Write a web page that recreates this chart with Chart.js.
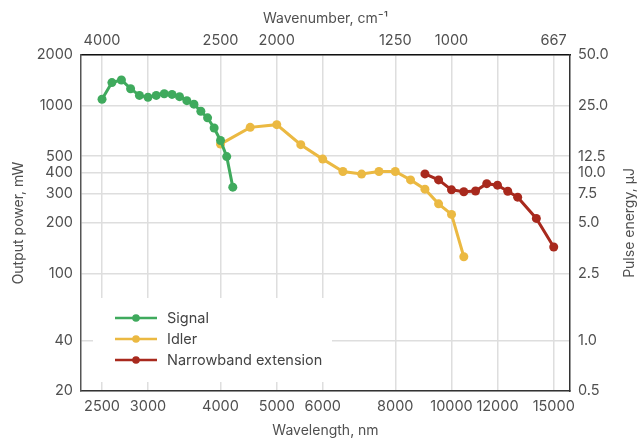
<!DOCTYPE html>
<html>
<head>
<meta charset="utf-8">
<script src="https://cdn.jsdelivr.net/npm/chart.js@4.4.1/dist/chart.umd.min.js"></script>
<style>
    html, body { margin: 0; padding: 0; background: #fff; }
</style>
</head>
<body>
<canvas id="powerChart" width="638" height="441"></canvas>
<script>
// Data
const signalWavelength = [2500, 2600, 2700, 2800, 2900, 3000, 3100, 3200, 3300, 3400, 3500, 3600, 3700, 3800, 3900, 4000, 4100, 4200];
const signalPower = [1090, 1370, 1420, 1260, 1150, 1120, 1150, 1175, 1165, 1130, 1070, 1020, 925, 845, 735, 620, 497, 327];

const idlerWavelength = [4000, 4500, 5000, 5500, 6000, 6500, 7000, 7500, 8000, 8500, 9000, 9500, 10000, 10500];
const idlerPower = [590, 742, 770, 585, 480, 405, 391, 405, 405, 361, 318, 260, 225, 126];

const narrowWavelength = [9000, 9500, 10000, 10500, 11000, 11500, 12000, 12500, 13000, 14000, 15000];
const narrowPower = [392, 361, 315, 307, 310, 343, 336, 309, 285, 213, 144];

const seriesLabels = ['Signal', 'Idler', 'Narrowband extension'];

const wavelengthTicks = [2500, 3000, 4000, 5000, 6000, 8000, 10000, 12000, 15000];
const wavenumberTicks = [4000, 2500, 2000, 1250, 1000, 667];
const powerTicks = [20, 40, 100, 200, 300, 400, 500, 1000, 2000];
const energyTicks = [0.5, 1.0, 2.5, 5.0, 7.5, 10.0, 12.5, 25.0, 50.0];

const textColor = '#505050';
const gridColor = '#dedede';
const fontFamily = 'Inter, "Open Sans", sans-serif';
const tickFont = { family: fontFamily, size: 14.5 };
const titleFont = { family: fontFamily, size: 14 };

function toPoints(xs, ys) {
    return xs.map((x, i) => ({ x: x, y: ys[i] }));
}

function series(label, xs, ys, color) {
    return {
        label: label,
        data: toPoints(xs, ys),
        borderColor: color,
        backgroundColor: color,
        borderWidth: 3,
        pointRadius: 4.5,
        pointBorderWidth: 0,
        tension: 0
    };
}

// Legend drawn inside the plot area, on a white box that hides the grid
const insideLegend = {
    id: 'insideLegend',
    beforeDatasetsDraw(chart) {
        const { ctx, chartArea } = chart;
        const left = chartArea.left + 12;
        const top = chartArea.bottom - 93;
        ctx.save();
        ctx.fillStyle = '#fff';
        ctx.fillRect(left, top, 239, 84);
        ctx.font = '14.5px ' + fontFamily;
        ctx.textBaseline = 'middle';
        chart.data.datasets.forEach((ds, i) => {
            const y = top + 20 + i * 21;
            ctx.strokeStyle = ds.borderColor;
            ctx.lineWidth = 2.5;
            ctx.beginPath();
            ctx.moveTo(left + 22, y);
            ctx.lineTo(left + 64, y);
            ctx.stroke();
            ctx.fillStyle = ds.borderColor;
            ctx.beginPath();
            ctx.arc(left + 43, y, 3.8, 0, Math.PI * 2);
            ctx.fill();
            ctx.fillStyle = '#444';
            ctx.fillText(ds.label, left + 74, y + 1);
        });
        ctx.restore();
    }
};

// Right axis title reads bottom-to-top like the left one
const rightTitle = {
    id: 'rightTitle',
    afterDraw(chart) {
        const { ctx, chartArea } = chart;
        ctx.save();
        ctx.translate(chart.width - 8, (chartArea.top + chartArea.bottom) / 2);
        ctx.rotate(-Math.PI / 2);
        ctx.font = '14px ' + fontFamily;
        ctx.fillStyle = textColor;
        ctx.textAlign = 'center';
        ctx.textBaseline = 'middle';
        ctx.fillText('Pulse energy, μJ', 0, 0);
        ctx.restore();
    }
};

const ctx = document.getElementById('powerChart').getContext('2d');
const powerChart = new Chart(ctx, {
    type: 'line',
    data: {
        datasets: [
            series(seriesLabels[0], signalWavelength, signalPower, '#3faa5d'),
            series(seriesLabels[1], idlerWavelength, idlerPower, '#ebb942'),
            series(seriesLabels[2], narrowWavelength, narrowPower, '#a8291d')
        ]
    },
    options: {
        responsive: false,
        animation: false,
        layout: { padding: 0 },
        plugins: {
            legend: { display: false },
            tooltip: { enabled: false }
        },
        scales: {
            x: {
                type: 'logarithmic',
                position: 'bottom',
                min: 2300,
                max: 16000,
                afterBuildTicks: s => { s.ticks = wavelengthTicks.map(v => ({ value: v })); },
                afterFit: s => { s.height = 50; },
                ticks: {
                    callback: v => v,
                    autoSkip: false,
                    maxRotation: 0,
                    padding: 7,
                    color: textColor,
                    font: tickFont
                },
                grid: { color: gridColor, lineWidth: 1.5, drawTicks: false },
                border: { color: '#333', width: 1.5 },
                title: {
                    display: true,
                    text: 'Wavelength, nm',
                    color: textColor,
                    font: titleFont,
                    padding: { top: 0, bottom: 2 }
                }
            },
            x2: {
                type: 'logarithmic',
                position: 'top',
                min: 2300,
                max: 16000,
                afterBuildTicks: s => { s.ticks = wavenumberTicks.map(w => ({ value: 1e7 / w })); },
                afterFit: s => { s.height = 55; },
                ticks: {
                    callback: (v, i) => wavenumberTicks[i],
                    autoSkip: false,
                    maxRotation: 0,
                    padding: 6,
                    color: textColor,
                    font: tickFont
                },
                grid: { display: false, drawTicks: false },
                border: { color: '#111', width: 1.5 },
                title: {
                    display: true,
                    text: 'Wavenumber, cm⁻¹',
                    color: textColor,
                    font: titleFont,
                    padding: { top: 10, bottom: 0 }
                }
            },
            y: {
                type: 'logarithmic',
                position: 'left',
                min: 20,
                max: 2000,
                afterBuildTicks: s => { s.ticks = powerTicks.map(v => ({ value: v })); },
                afterFit: s => { s.width = 81; },
                ticks: {
                    callback: v => v,
                    autoSkip: false,
                    padding: 8,
                    color: textColor,
                    font: tickFont
                },
                grid: { color: gridColor, lineWidth: 1.5, drawTicks: false },
                border: { color: '#555', width: 1.5 },
                title: {
                    display: true,
                    text: 'Output power, mW',
                    color: textColor,
                    font: titleFont,
                    padding: { top: 10, bottom: 0 }
                }
            },
            y2: {
                type: 'logarithmic',
                position: 'right',
                min: 0.5,
                max: 50,
                afterBuildTicks: s => { s.ticks = energyTicks.map(v => ({ value: v })); },
                afterFit: s => { s.width = 68; },
                ticks: {
                    callback: v => Number(v).toFixed(1),
                    autoSkip: false,
                    padding: 8,
                    color: textColor,
                    font: tickFont
                },
                grid: { display: false, drawTicks: false },
                border: { color: '#333', width: 1.5 }
            }
        }
    },
    plugins: [insideLegend, rightTitle]
});
</script>
</body>
</html>
